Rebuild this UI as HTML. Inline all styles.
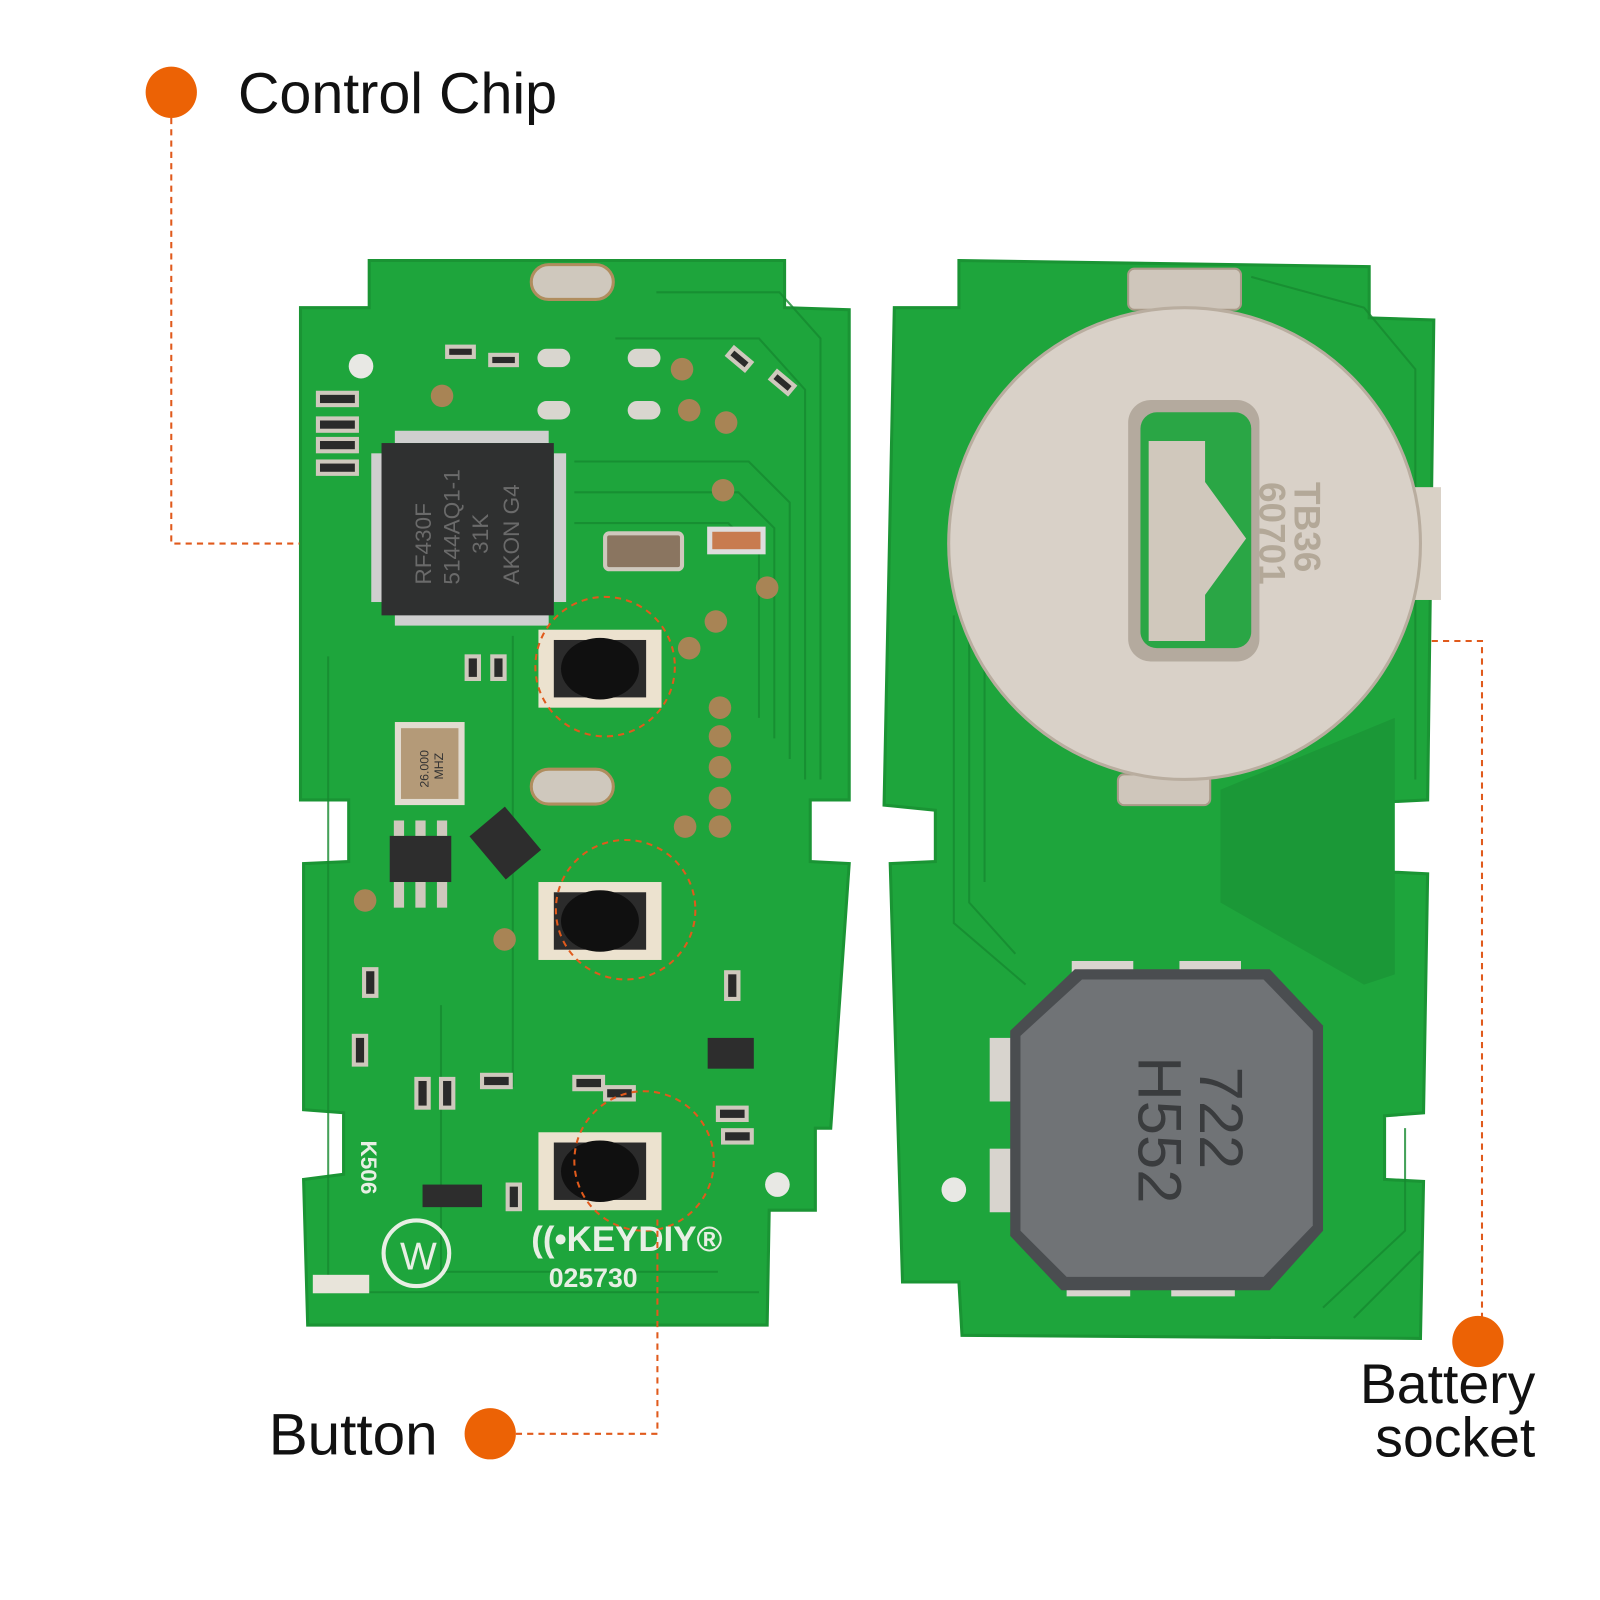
<!DOCTYPE html>
<html><head><style>
html,body{margin:0;padding:0;background:#fff;}
svg{display:block}
text{font-family:"Liberation Sans",sans-serif}
</style></head><body>
<svg width="1600" height="1600" viewBox="0 0 1600 1600" xmlns="http://www.w3.org/2000/svg">
<rect width="1600" height="1600" fill="#fff"/>
<g transform="scale(1.0256)">
<!-- Left PCB -->
<path d="M360,254 L765,254 L765,300 L828,302 L828,780 L790,780 L790,840 L828,842 L810,1100 L795,1100 L795,1180 L750,1180 L748,1292 L300,1292 L296,1150 L335,1145 L335,1085 L296,1082 L296,842 L340,840 L340,780 L293,780 L293,300 L360,300 Z" fill="#1ea53c" stroke="#1a9434" stroke-width="3"/>
<g fill="none" stroke="#168a30" stroke-width="2" opacity="0.8">
<path d="M640,285 L760,285 L800,330 L800,760"/>
<path d="M600,330 L740,330 L785,380 L785,760"/>
<path d="M560,450 L730,450 L770,490 L770,740"/>
<path d="M560,480 L720,480 L755,515 L755,720"/>
<path d="M560,510 L710,510 L740,540 L740,700"/>
<path d="M320,640 L320,1260 L740,1260"/>
<path d="M430,980 L430,1240 L700,1240"/>
<path d="M500,620 L500,1060"/>
</g>
<rect x="518" y="258" width="80" height="34" rx="17" fill="#cfc8bd" stroke="#b08d5e" stroke-width="3"/>
<rect x="518" y="750" width="80" height="34" rx="17" fill="#cfc8bd" stroke="#b08d5e" stroke-width="3"/>
<circle cx="352" cy="357" r="12" fill="#e8e8e4"/>
<circle cx="758" cy="1155" r="12" fill="#e8e8e4"/>
<g fill="#d9d6cf"><rect x="524" y="340" width="32" height="18" rx="9"/><rect x="612" y="340" width="32" height="18" rx="9"/><rect x="524" y="391" width="32" height="18" rx="9"/><rect x="612" y="391" width="32" height="18" rx="9"/></g>
<g fill="#a88455"><circle cx="431" cy="386" r="11"/><circle cx="665" cy="360" r="11"/><circle cx="672" cy="400" r="11"/><circle cx="708" cy="412" r="11"/><circle cx="705" cy="478" r="11"/><circle cx="748" cy="573" r="11"/><circle cx="698" cy="606" r="11"/><circle cx="672" cy="632" r="11"/><circle cx="702" cy="690" r="11"/><circle cx="702" cy="718" r="11"/><circle cx="702" cy="748" r="11"/><circle cx="702" cy="778" r="11"/><circle cx="702" cy="806" r="11"/><circle cx="668" cy="806" r="11"/><circle cx="492" cy="916" r="11"/><circle cx="356" cy="878" r="11"/></g>
<g fill="#2a2a2a" stroke="#cfc8bd" stroke-width="4">
<rect x="310" y="383" width="38" height="12"/><rect x="310" y="408" width="38" height="12"/><rect x="310" y="428" width="38" height="12"/><rect x="310" y="450" width="38" height="12"/>
<rect x="436" y="338" width="26" height="10"/><rect x="478" y="346" width="26" height="10"/>
<rect x="710" y="345" width="22" height="10" transform="rotate(40 721 350)"/><rect x="752" y="368" width="22" height="10" transform="rotate(40 763 373)"/>
<rect x="455" y="640" width="12" height="22"/><rect x="480" y="640" width="12" height="22"/>
<rect x="406" y="1052" width="12" height="28"/><rect x="430" y="1052" width="12" height="28"/>
<rect x="708" y="948" width="12" height="26"/><rect x="495" y="1155" width="12" height="24"/>
<rect x="345" y="1010" width="12" height="28"/><rect x="355" y="945" width="12" height="26"/>
<rect x="560" y="1050" width="28" height="12"/><rect x="470" y="1048" width="28" height="12"/>
<rect x="590" y="1060" width="28" height="12"/><rect x="700" y="1080" width="28" height="12"/><rect x="705" y="1102" width="28" height="12"/>
</g>
<g fill="#cfcfcf">
<rect x="385" y="420" width="150" height="12"/><rect x="385" y="598" width="150" height="12"/>
<rect x="362" y="442" width="12" height="145"/><rect x="540" y="442" width="12" height="145"/>
</g>
<rect x="372" y="432" width="168" height="168" fill="#2f3030"/>
<text transform="translate(420,570) rotate(-90)" fill="#6a6a6a" font-size="22" font-family="Liberation Mono,monospace">RF430F</text>
<text transform="translate(448,570) rotate(-90)" fill="#6a6a6a" font-size="22" font-family="Liberation Mono,monospace">5144AQ1-1</text>
<text transform="translate(476,540) rotate(-90)" fill="#6a6a6a" font-size="22" font-family="Liberation Mono,monospace">31K</text>
<text transform="translate(506,570) rotate(-90)" fill="#6a6a6a" font-size="22" font-family="Liberation Mono,monospace">AKON G4</text>
<rect x="590" y="520" width="75" height="35" rx="4" fill="#8a7560" stroke="#cfc8bd" stroke-width="4"/>
<rect x="692" y="516" width="52" height="22" fill="#c87b4f" stroke="#ddd" stroke-width="5"/>
<rect x="388" y="707" width="62" height="75" fill="#b49a78" stroke="#e2dbd0" stroke-width="6"/>
<text transform="translate(418,768) rotate(-90)" fill="#333" font-size="12">26.000</text>
<text transform="translate(432,760) rotate(-90)" fill="#333" font-size="12">MHZ</text>
<rect x="380" y="815" width="60" height="45" fill="#2d2d2d"/>
<g fill="#cfc8bd"><rect x="384" y="800" width="10" height="15"/><rect x="405" y="800" width="10" height="15"/><rect x="426" y="800" width="10" height="15"/><rect x="384" y="860" width="10" height="25"/><rect x="405" y="860" width="10" height="25"/><rect x="426" y="860" width="10" height="25"/></g>
<rect x="470" y="795" width="45" height="55" fill="#2d2d2d" transform="rotate(-40 492 822)"/>
<rect x="690" y="1012" width="45" height="30" fill="#2d2d2d"/>
<rect x="412" y="1155" width="58" height="22" fill="#2d2d2d"/>
<g>
<rect x="525" y="614" width="120" height="76" fill="#ece2cf"/><rect x="540" y="624" width="90" height="56" fill="#2b2b2b"/><ellipse cx="585" cy="652" rx="38" ry="30" fill="#101010"/>
<rect x="525" y="860" width="120" height="76" fill="#ece2cf"/><rect x="540" y="870" width="90" height="56" fill="#2b2b2b"/><ellipse cx="585" cy="898" rx="38" ry="30" fill="#101010"/>
<rect x="525" y="1104" width="120" height="76" fill="#ece2cf"/><rect x="540" y="1114" width="90" height="56" fill="#2b2b2b"/><ellipse cx="585" cy="1142" rx="38" ry="30" fill="#101010"/>
</g>
<g fill="none" stroke="#e05a1c" stroke-width="2" stroke-dasharray="6,5">
<circle cx="590" cy="650" r="68"/><circle cx="610" cy="887" r="68"/><circle cx="628" cy="1132" r="68"/>
</g>
<text transform="translate(352,1112) rotate(90)" fill="#e8efe4" font-size="22" font-weight="bold">K506</text>
<circle cx="406" cy="1222" r="32" fill="none" stroke="#e8efe4" stroke-width="4"/>
<text x="390" y="1238" fill="#e8efe4" font-size="38">W</text>
<text x="518" y="1220" fill="#e8efe4" font-size="34" font-weight="bold">((•KEYDIY®</text>
<text x="535" y="1255" fill="#e8efe4" font-size="26" font-weight="bold">025730</text>
<rect x="305" y="1243" width="55" height="18" fill="#e8e4da"/>
<!-- Right PCB -->
<path d="M935,254 L1335,260 L1335,310 L1398,312 L1392,780 L1350,782 L1350,850 L1392,852 L1388,1085 L1350,1088 L1350,1150 L1388,1152 L1385,1305 L938,1302 L935,1250 L880,1250 L868,842 L912,840 L912,790 L862,785 L872,300 L935,300 Z" fill="#1ea53c" stroke="#1a9434" stroke-width="3"/>
<g fill="none" stroke="#168a30" stroke-width="2" opacity="0.8">
<path d="M930,600 L930,900 L1000,960"/><path d="M945,620 L945,880 L990,930"/><path d="M960,640 L960,860"/>
<path d="M1290,1275 L1370,1200 L1370,1100"/><path d="M1320,1285 L1385,1220"/>
<path d="M1220,270 L1330,300 L1380,360 L1380,760"/>
</g>
<path d="M1190,770 L1360,700 L1360,950 L1330,960 L1190,880 Z" fill="#1b9837"/>
<rect x="1100" y="262" width="110" height="40" rx="6" fill="#cfc6bb" stroke="#a99a88" stroke-width="2"/>
<rect x="1090" y="755" width="90" height="30" rx="6" fill="#cfc6bb" stroke="#a99a88" stroke-width="2"/>
<rect x="1370" y="475" width="35" height="110" fill="#d9d1c6"/>
<circle cx="1155" cy="530" r="230" fill="#d9d1c8" stroke="#b9ad9f" stroke-width="3"/>
<rect x="1100" y="390" width="128" height="255" rx="22" fill="#b4aa9e"/>
<rect x="1112" y="402" width="108" height="230" rx="16" fill="#2aa645"/>
<path d="M1120,430 L1175,430 L1175,470 L1215,525 L1175,580 L1175,625 L1120,625 Z" fill="#d0c8bc"/>
<text transform="translate(1262,470) rotate(90)" fill="#b3a898" font-size="36" font-weight="bold">TB36</text>
<text transform="translate(1228,470) rotate(90)" fill="#b3a898" font-size="36" font-weight="bold">60701</text>
<rect x="1045" y="937" width="60" height="14" fill="#d8d4ce"/><rect x="1150" y="937" width="60" height="14" fill="#d8d4ce"/>
<rect x="965" y="1012" width="22" height="62" fill="#d8d4ce"/><rect x="965" y="1120" width="22" height="62" fill="#d8d4ce"/>
<rect x="1040" y="1250" width="62" height="14" fill="#d8d4ce"/><rect x="1142" y="1250" width="62" height="14" fill="#d8d4ce"/>
<polygon points="1048,945 1238,945 1290,1000 1290,1200 1238,1258 1035,1258 985,1205 985,1005" fill="#4a4d50"/>
<polygon points="1055,955 1232,955 1280,1005 1280,1195 1232,1245 1040,1245 995,1200 995,1010" fill="#707376"/>
<text transform="translate(1170,1040) rotate(90)" fill="#3a3c3e" font-size="60">722</text>
<text transform="translate(1110,1030) rotate(90)" fill="#3a3c3e" font-size="60">H552</text>
<circle cx="930" cy="1160" r="12" fill="#e8e8e4"/>
<g fill="none" stroke="#e05a1c" stroke-width="2" stroke-dasharray="6,5">
<path d="M167,115 L167,530 L292,530"/>
<path d="M503,1398 L641,1398 L641,1185"/>
<path d="M1396,625 L1445,625 L1445,1285"/>
</g>
<g fill="#ec6205"><circle cx="167" cy="90" r="25"/><circle cx="478" cy="1398" r="25"/><circle cx="1441" cy="1308" r="25"/></g>
<text x="232" y="110" font-size="56" fill="#111">Control Chip</text>
<text x="262" y="1418" font-size="57" fill="#111">Button</text>
<text x="1497" y="1368" font-size="54" fill="#111" text-anchor="end">Battery</text>
<text x="1497" y="1420" font-size="54" fill="#111" text-anchor="end">socket</text>
</g>
</svg>
</body></html>
